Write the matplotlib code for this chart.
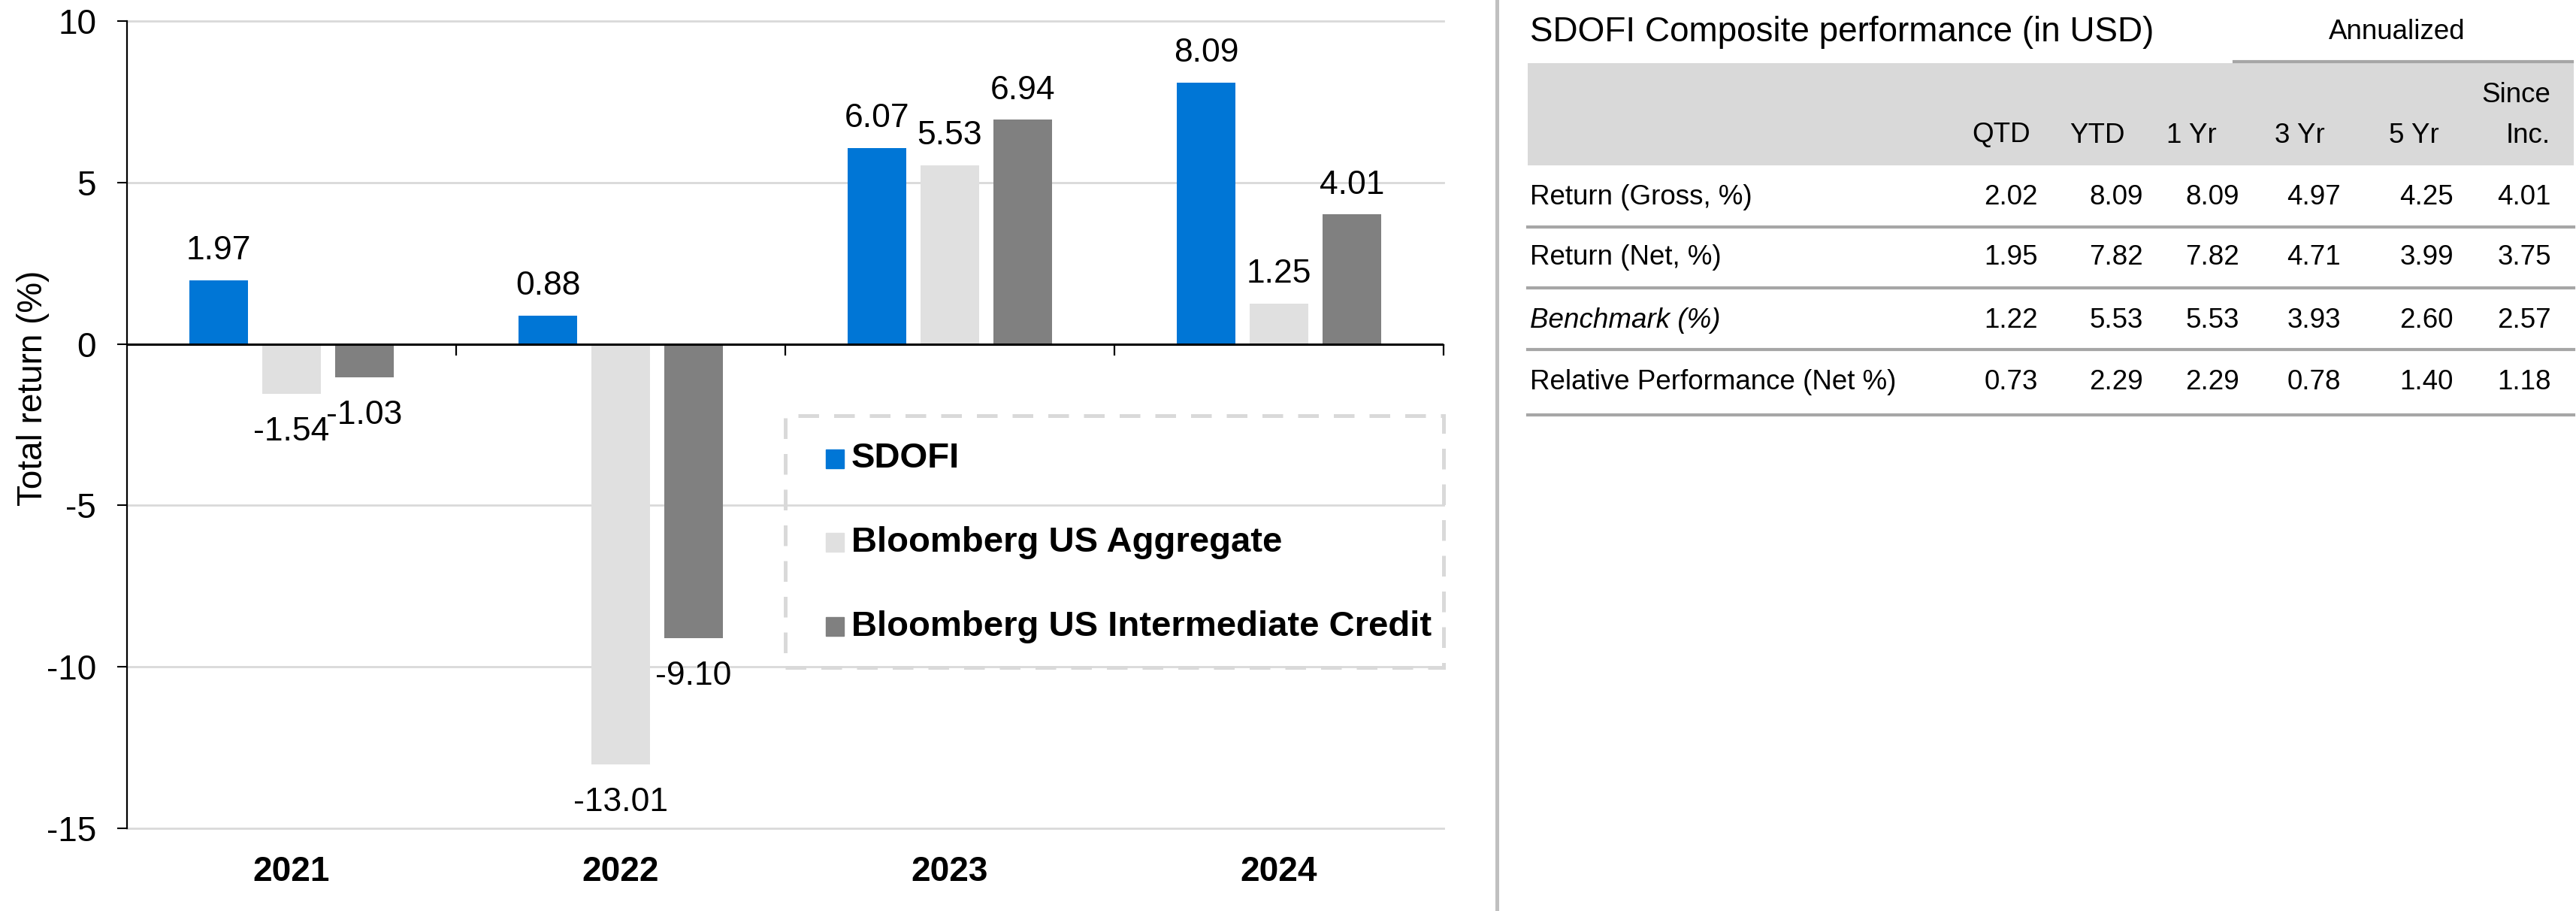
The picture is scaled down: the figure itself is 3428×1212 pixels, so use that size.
import numpy as np
import matplotlib
matplotlib.use("Agg")
import matplotlib.pyplot as plt
from matplotlib.lines import Line2D
from matplotlib.patches import Rectangle

plt.rcParams["font.family"] = ["Liberation Sans", "DejaVu Sans"]
plt.rcParams["axes.unicode_minus"] = False

# ---- chart data ----
years = ["2021", "2022", "2023", "2024"]
series_names = ["SDOFI", "Bloomberg US Aggregate", "Bloomberg US Intermediate Credit"]
sdofi = [1.97, 0.88, 6.07, 8.09]
us_agg = [-1.54, -13.01, 5.53, 1.25]
int_credit = [-1.03, -9.10, 6.94, 4.01]
bar_colors = ["#0076d6", "#e0e0e0", "#808080"]

# ---- table data ----
tbl_title = "SDOFI Composite performance (in USD)"
tbl_group = "Annualized"
tbl_cols = ["QTD", "YTD", "1 Yr", "3 Yr", "5 Yr", "Since\nInc."]
tbl_rows = ["Return (Gross, %)", "Return (Net, %)", "Benchmark (%)",
            "Relative Performance (Net %)"]
gross = [2.02, 8.09, 8.09, 4.97, 4.25, 4.01]
net = [1.95, 7.82, 7.82, 4.71, 3.99, 3.75]
bench = [1.22, 5.53, 5.53, 3.93, 2.60, 2.57]
rel_net = [0.73, 2.29, 2.29, 0.78, 1.40, 1.18]

W, H = 3428, 1212
fig = plt.figure(figsize=(W / 100, H / 100), dpi=100)

# ---------------- bar chart ----------------
ax = fig.add_axes([169 / W, 1 - 1102 / H, (1921 - 169) / W, (1102 - 28) / H])
x = np.arange(len(years))
bw = 0.178
offs = [-0.221, 0.0, 0.221]
FS = 33

for vals, off, col in zip([sdofi, us_agg, int_credit], offs, bar_colors):
    bars = ax.bar(x + off, vals, bw, color=col, zorder=2)
    for b, v in zip(bars, vals):
        ax.annotate(f"{v:.2f}", (b.get_x() + b.get_width() / 2, v),
                    xytext=(0, 20 if v > 0 else -22), textcoords="offset points",
                    ha="center", va="baseline" if v > 0 else "top", fontsize=32)

ax.set_xlim(-0.5, 3.5)
ax.set_ylim(-15, 10)
ax.set_yticks([10, 5, 0, -5, -10, -15])
ax.yaxis.grid(True, color="#d9d9d9", lw=2.0)
for gl in ax.get_ygridlines():
    gl.set_clip_on(False)
ax.set_axisbelow(True)
ax.axhline(0, color="black", lw=2.2, zorder=3)
ax.vlines([0.5, 1.5, 2.5, 3.5], -0.36, 0, color="black", lw=1.6, clip_on=False, zorder=3)

for s in ["top", "right", "bottom"]:
    ax.spines[s].set_visible(False)
ax.spines["left"].set_linewidth(1.6)
ax.tick_params(axis="y", length=9.5, width=1.5, pad=20, labelsize=FS)
ax.set_xticks(x)
ax.set_xticklabels(years, fontweight="bold", fontsize=FS)
ax.tick_params(axis="x", length=0, pad=26)
ax.set_ylabel("Total return (%)", fontsize=FS)
ax.yaxis.set_label_coords(-0.059, 0.545)

# legend box, dashed outline
ax.add_patch(Rectangle((0.5, 0.199), 0.5, 0.312, transform=ax.transAxes, fill=False,
                       ec="#d9d9d9", lw=3.6, ls=(0, (5.5, 4)), clip_on=False, zorder=4))
for i, (name, col) in enumerate(zip(series_names, bar_colors)):
    yc = 0.458 - i * 0.104
    ax.add_patch(Rectangle((0.5308, yc - 0.0117), 0.0137, 0.0233, transform=ax.transAxes,
                           color=col, clip_on=False, zorder=4))
    ax.text(0.5502, yc, name, transform=ax.transAxes, fontsize=34, fontweight="bold",
            va="center", ha="left", zorder=4)

# divider
fig.add_artist(Line2D([1992 / W, 1992 / W], [0, 1], color="#c0c0c0", lw=3.6))

# ---------------- table ----------------
tx = fig.add_axes([0, 0, 1, 1])
tx.set_xlim(0, W)
tx.set_ylim(H, 0)
tx.axis("off")

TFS = 26.5
left, right = 2033, 3425
tx.text(2036, 43, tbl_title, fontsize=33, va="center", ha="left")
tx.text(3190, 43, tbl_group, fontsize=TFS, va="center", ha="center")
tx.plot([2973, 3423], [82, 82], color="#a6a6a6", lw=3)
tx.add_patch(Rectangle((left, 84), right - left, 136, color="#d9d9d9", lw=0))

hdr_right = [2702, 2828, 2950, 3094, 3246, 3394]
val_right = [2712, 2852, 2980, 3115, 3265, 3395]
for lab, xr in zip(tbl_cols, hdr_right):
    for k, part in enumerate(reversed(lab.split("\n"))):
        tx.text(xr, 180 - k * 53, part, fontsize=TFS, va="center", ha="right")

row_y = [262, 343, 426, 509]
line_y = [302, 383, 465, 552]
for lab, vals, yc, yl in zip(tbl_rows, [gross, net, bench, rel_net], row_y, line_y):
    tx.text(2036, yc, lab, fontsize=TFS, va="center", ha="left",
            style="italic" if lab.startswith("Benchmark") else "normal")
    for v, xr in zip(vals, val_right):
        tx.text(xr, yc, f"{v:.2f}", fontsize=TFS, va="center", ha="right")
    tx.plot([left, right], [yl, yl], color="#a6a6a6", lw=3)

fig.savefig("out.png", dpi=100)
